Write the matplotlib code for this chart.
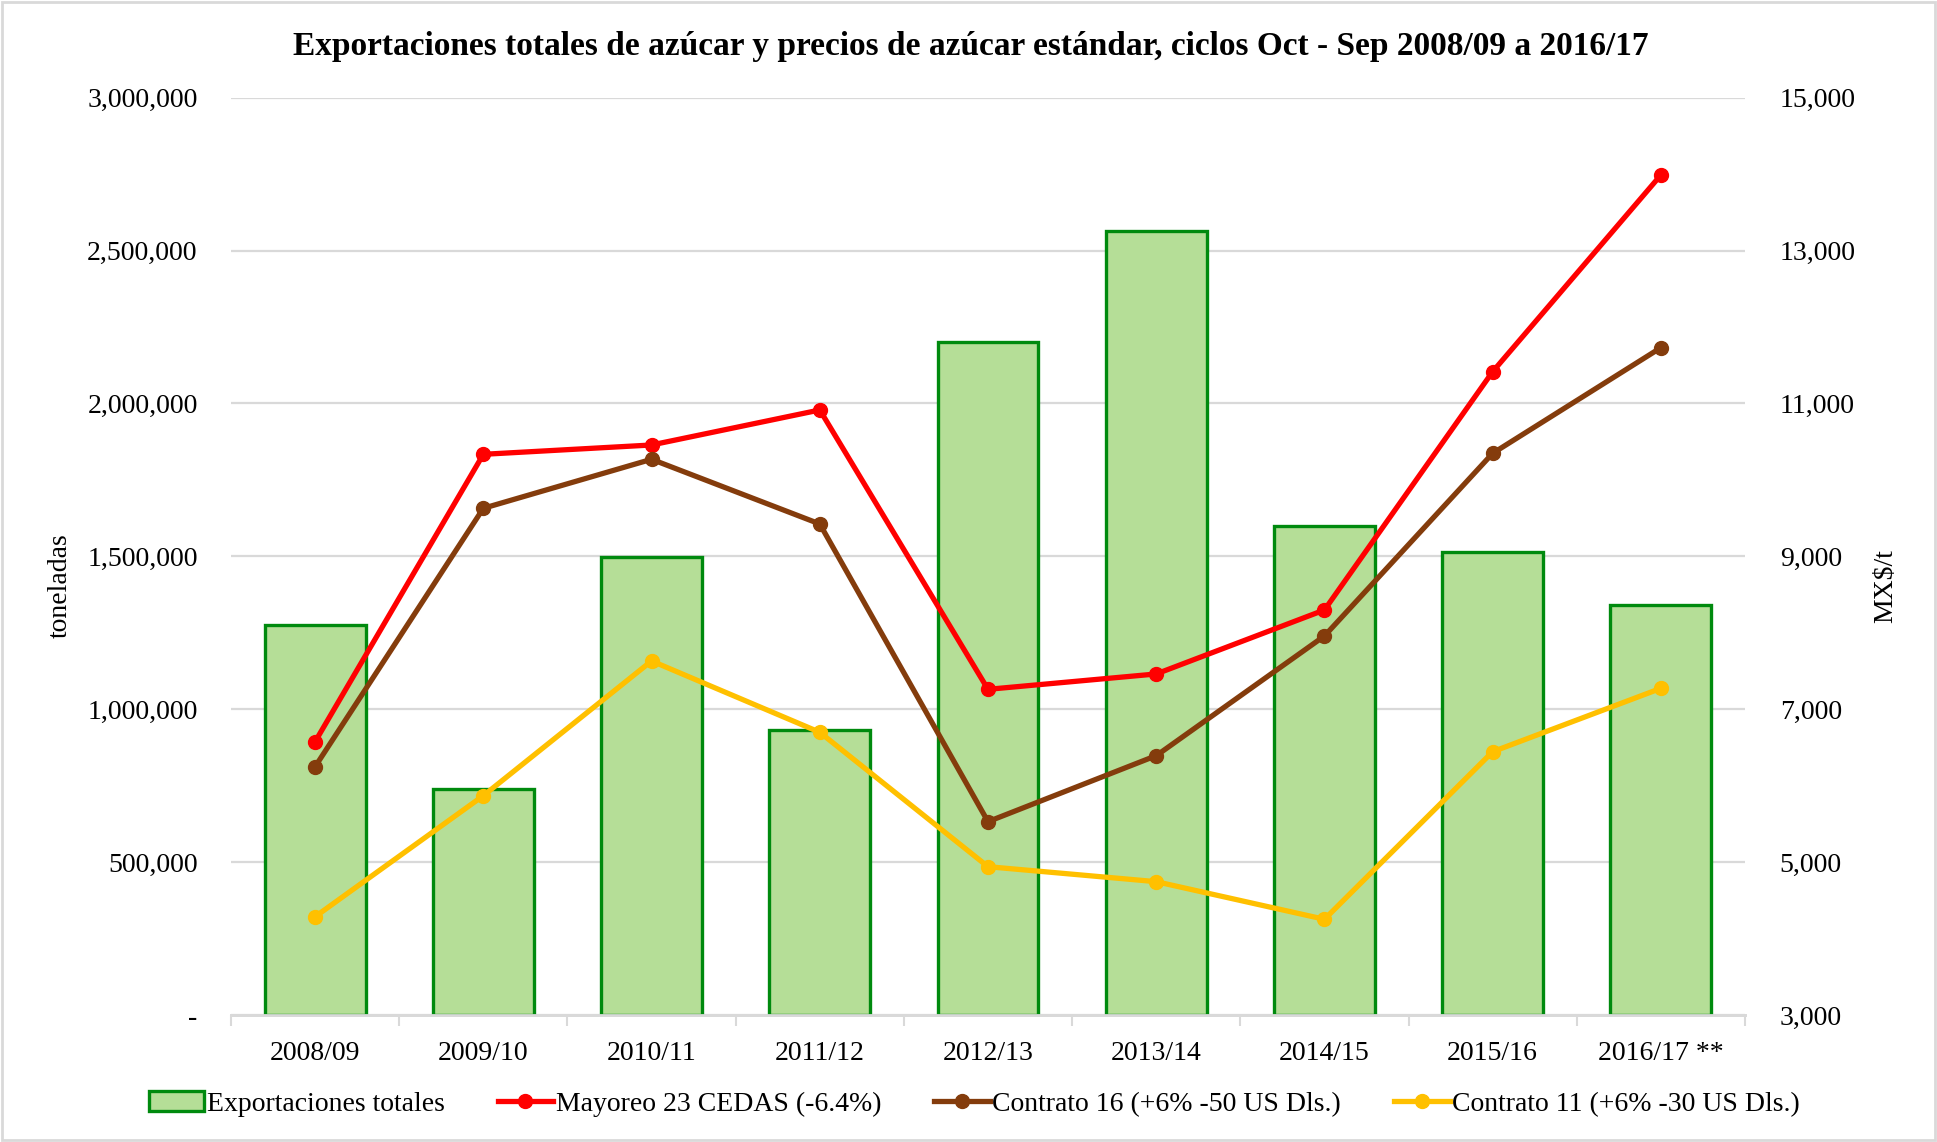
import matplotlib
matplotlib.use("Agg")
import matplotlib.pyplot as plt
from matplotlib.ticker import FuncFormatter, FixedLocator
from matplotlib.patches import Rectangle
import numpy as np

plt.rcParams['font.family'] = ['Liberation Serif', 'DejaVu Serif']

categories = ["2008/09", "2009/10", "2010/11", "2011/12", "2012/13",
              "2013/14", "2014/15", "2015/16", "2016/17 **"]
exportaciones = [1275000, 740000, 1497000, 932000, 2202000,
                 2564000, 1599000, 1515000, 1341000]
mayoreo = [6575, 10334, 10456, 10914, 7260, 7461, 8298, 11415, 13988]
contrato16 = [6248, 9628, 10269, 9423, 5529, 6392, 7958, 10347, 11729]
contrato11 = [4286, 5869, 7631, 6698, 4940, 4744, 4252, 6444, 7273]

left_ticks = [0, 500000, 1000000, 1500000, 2000000, 2500000, 3000000]
right_ticks = [3000, 5000, 7000, 9000, 11000, 13000, 15000]

title = "Exportaciones totales de azúcar y precios de azúcar estándar, ciclos Oct - Sep 2008/09 a 2016/17"
names = ["Exportaciones totales", "Mayoreo 23 CEDAS (-6.4%)",
         "Contrato 16 (+6% -50 US Dls.)", "Contrato 11 (+6% -30 US Dls.)"]

W, H = 1937, 1142
fig = plt.figure(figsize=(W / 100, H / 100), dpi=100)
ax = fig.add_axes([231 / W, 1 - 1015 / H, (1745 - 231) / W, (1015 - 97.6) / H])
ax2 = ax.twinx()

grid_c = "#d9d9d9"
x = np.arange(len(categories))

ax.bar(x, exportaciones, width=0.6, color="#b5de97", edgecolor="#008a0e",
       linewidth=2.4, label=names[0], zorder=3)
ax.set_ylim(0, 3000000)
ax.set_xlim(-0.5, len(categories) - 0.5)
ax.yaxis.set_major_locator(FixedLocator(left_ticks))
ax.yaxis.set_major_formatter(FuncFormatter(lambda v, p: "-" if v == 0 else f"{int(v):,}"))
ax.grid(axis="y", color=grid_c, linewidth=1.6, zorder=0)
ax.set_axisbelow(True)

ax2.set_ylim(3000, 15000)
ax2.yaxis.set_major_locator(FixedLocator(right_ticks))
ax2.yaxis.set_major_formatter(FuncFormatter(lambda v, p: f"{int(v):,}"))

lw, ms = 3.8, 10
l1, = ax2.plot(x, mayoreo, color="#ff0000", lw=lw, marker="o", ms=ms, label=names[1])
l2, = ax2.plot(x, contrato16, color="#843c0c", lw=lw, marker="o", ms=ms, label=names[2])
l3, = ax2.plot(x, contrato11, color="#ffc000", lw=lw, marker="o", ms=ms, label=names[3])

for a in (ax, ax2):
    for s in ("top", "left", "right"):
        a.spines[s].set_visible(False)
    a.spines["bottom"].set_color(grid_c)
    a.spines["bottom"].set_linewidth(2)

ax.set_xticks(x)
ax.set_xticklabels(categories)
ax.set_xticks(np.arange(-0.5, len(categories), 1.0), minor=True)
ax.tick_params(axis="x", which="major", length=0, labelsize=20, pad=19)
ax.tick_params(axis="x", which="minor", length=8, width=1.5, color=grid_c)
ax.tick_params(axis="y", length=0, labelsize=20, pad=24)
ax2.tick_params(axis="y", length=0, labelsize=20, pad=25)

ax.set_ylabel("toneladas", fontsize=20)
ax.yaxis.set_label_coords(73 / W, 556 / H, transform=fig.transFigure)
ax2.set_ylabel("MX$/t", fontsize=20, rotation=90)
ax2.yaxis.set_label_coords(1873 / W, 556 / H, transform=fig.transFigure)

fig.text(971 / W, 1 - 46 / H, title, ha="center", va="center",
         fontsize=24, fontweight="bold")

h0 = ax.patches[0]
fig.legend([h0, l1, l2, l3], names, loc="center",
           bbox_to_anchor=(0.503, 1 - 1104 / H), ncol=4, frameon=False,
           fontsize=20, handlelength=2.0, handletextpad=0.1, columnspacing=1.9)

fig.add_artist(Rectangle((2 / W, 2 / H), 1 - 4 / W, 1 - 4 / H, transform=fig.transFigure,
                         fill=False, edgecolor=grid_c, linewidth=2))

fig.savefig("out.png", dpi=100)
